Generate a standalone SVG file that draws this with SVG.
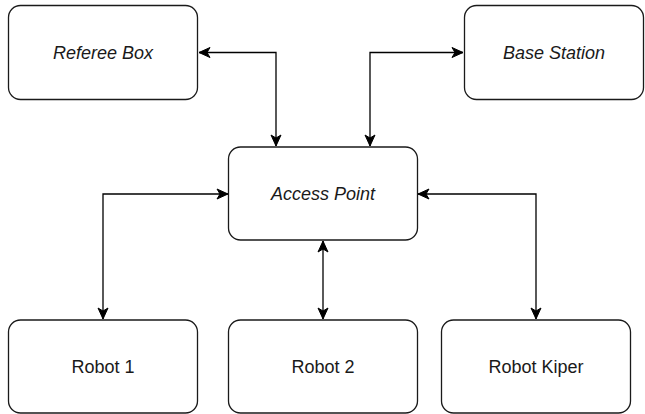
<svg xmlns="http://www.w3.org/2000/svg" width="645" height="414" viewBox="0 0 645 414">
<style>
.box{fill:#fff;stroke:#1a1a1a;stroke-width:1.3}
.lbl{font-family:"Liberation Sans",Arial,sans-serif;font-size:18px;fill:#1a1a1a;text-anchor:middle}
.it{font-style:italic}
.con{fill:none;stroke:#000;stroke-width:1.3;marker-start:url(#arr);marker-end:url(#arr)}
</style>
<defs>
<marker id="arr" markerUnits="userSpaceOnUse" viewBox="-12 -7 13 14" refX="0" refY="0" markerWidth="13" markerHeight="14" orient="auto-start-reverse">
<path d="M0,0 L-11,-5 L-8,0 L-11,5 Z" fill="#000" stroke="#000" stroke-width="1"/>
</marker>
</defs>
<rect width="645" height="414" fill="#fff"/>
<g id="connectors">
<path class="con" d="M276,146 L276,52.5 L199,52.5"/>
<path class="con" d="M370,146 L370,52.5 L463,52.5"/>
<path class="con" d="M103,319 L103,194 L228,194"/>
<path class="con" d="M323,241 L323,319"/>
<path class="con" d="M536,319 L536,194 L418,194"/>
</g>
<g id="referee-box">
<rect class="box" x="8.5" y="5.5" width="189" height="94" rx="12"/>
<text class="lbl it" x="103" y="58.5">Referee Box</text>
</g>
<g id="base-station">
<rect class="box" x="464.5" y="5.5" width="179" height="94" rx="12"/>
<text class="lbl it" x="554" y="58.5">Base Station</text>
</g>
<g id="access-point">
<rect class="box" x="228.5" y="147" width="189" height="93" rx="12"/>
<text class="lbl it" x="323" y="200">Access Point</text>
</g>
<g id="robot-1">
<rect class="box" x="8.5" y="320" width="189" height="93" rx="12"/>
<text class="lbl" x="103" y="373">Robot 1</text>
</g>
<g id="robot-2">
<rect class="box" x="228.5" y="320" width="189" height="93" rx="12"/>
<text class="lbl" x="323" y="373">Robot 2</text>
</g>
<g id="robot-kiper">
<rect class="box" x="441.5" y="320" width="189" height="93" rx="12"/>
<text class="lbl" x="536" y="373">Robot Kiper</text>
</g>
</svg>
